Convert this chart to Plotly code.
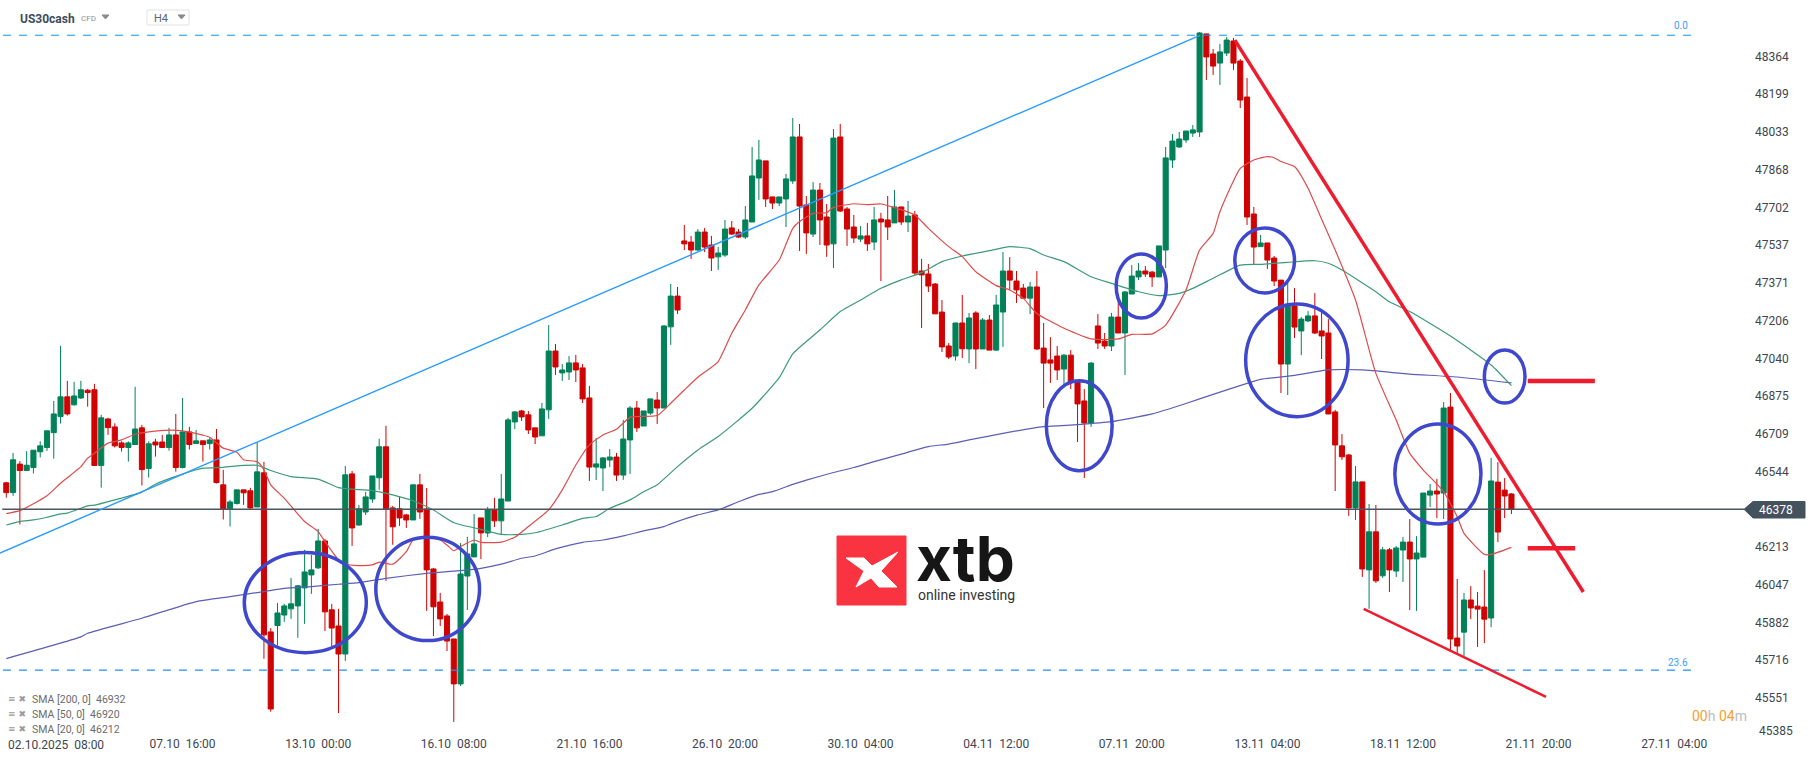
import plotly.graph_objects as go

# candles, oldest first
opens = [46494,46451,46576,46548,46561,46630,46649,46714,46785,46871,46836,46866,46900,46902,46570,46774,46739,46669,46649,46662,
46735,46557,46673,46673,46649,46704,46561,46717,46666,46678,46666,46682,46485,46380,46403,46463,46459,46388,46538,45840,
45868,45914,45941,45954,46033,46090,46121,46239,45937,45866,45743,46533,46309,46366,46423,46516,46652,46384,46380,46353,
46331,46485,46379,46116,45971,45910,45809,45612,46085,46169,46340,46274,46375,46327,46414,46761,46809,46792,46735,46700,
46814,47072,46976,46980,47020,46998,46866,46563,46559,46594,46607,46528,46682,46822,46743,46800,46857,46822,47178,47313,
47555,47550,47515,47594,47537,47485,47493,47612,47594,47572,47638,47831,47906,47748,47721,47739,47818,48011,47713,47585,
47778,47660,47542,48011,47695,47616,47563,47577,47550,47651,47647,47634,47704,47638,47669,47423,47410,47366,47243,47094,
47050,47195,47081,47239,47081,47208,47076,47243,47423,47379,47348,47304,47353,47085,47033,47050,46993,47054,46936,46853,
46756,47182,47116,47094,47221,47151,47322,47397,47423,47418,47397,47515,47910,47967,47998,48028,48033,48463,48375,48335,
48379,48432,48344,48186,47673,47530,47546,47480,47383,47015,47269,47160,47204,47226,47160,47151,46805,46656,46616,46384,
46498,46112,46279,46086,46200,46107,46199,46234,46160,46168,46440,46458,46449,46826,45813,45839,45980,45953,45949,45901,
46497,46462,46445]
highs = [46498,46625,46589,46633,46637,46676,46722,46853,47095,46941,46937,46941,46906,46928,46792,46779,46755,46676,46676,46915,
46748,46676,46687,46704,46735,46796,46866,46739,46726,46678,46692,46730,46551,46419,46463,46463,46472,46673,46586,45857,
45967,45963,46077,46046,46200,46178,46292,46248,45963,45941,46568,46546,46397,46454,46524,46687,46744,46393,46432,46358,
46485,46533,46471,46121,46011,45919,45809,46230,46257,46357,46340,46388,46428,46533,46779,46809,46814,46809,46735,46844,
47186,47103,47015,47050,47055,47015,46919,46691,46607,46642,46625,46770,46831,46853,46809,46862,46892,47186,47366,47353,
47625,47577,47607,47612,47577,47528,47647,47642,47607,47708,47967,47998,47906,47748,47748,47849,48094,48068,47752,47813,
47809,47717,48046,48068,47704,47669,47620,47634,47704,47678,47752,47778,47704,47730,47686,47476,47454,47370,47296,47107,
47195,47318,47239,47247,47217,47230,47318,47506,47484,47423,47366,47375,47423,47195,47133,47094,47059,47076,46945,46905,
47024,47234,47151,47239,47318,47335,47449,47458,47445,47423,47533,47967,48024,48033,48037,48063,48471,48463,48397,48419,
48449,48445,48353,48270,47704,47581,47546,47489,47383,47375,47348,47221,47247,47326,47243,47212,46814,46708,46621,46568,
46498,46401,46397,46213,46208,46217,46256,46335,46260,46449,46489,46511,46848,46888,46072,46011,46041,46015,46111,46603,
46585,46515,46449]
lows = [46429,46437,46311,46548,46535,46605,46634,46600,46754,46789,46833,46862,46828,46570,46473,46704,46649,46631,46587,46660,
46482,46517,46609,46649,46635,46543,46557,46640,46666,46587,46640,46491,46333,46302,46399,46397,46380,46388,45722,45490,
45780,45884,45897,45814,45875,46007,46116,45844,45778,45484,45713,46217,46305,46353,46406,46463,46064,46222,46305,46296,
46331,46336,45932,45822,45866,45756,45445,45603,45936,46169,46160,46256,46300,46265,46414,46730,46765,46708,46664,46700,
46774,46967,46941,46945,46936,46844,46502,46506,46458,46563,46502,46507,46533,46717,46743,46792,46752,46822,47099,47235,
47515,47476,47511,47506,47423,47428,47485,47581,47568,47563,47638,47735,47704,47695,47708,47616,47805,47511,47498,47572,
47537,47485,47436,47682,47533,47546,47550,47511,47515,47379,47559,47634,47625,47594,47406,47173,47331,47235,47068,47037,
47030,47041,47019,46993,47081,47076,47072,47090,47340,47283,47304,47234,47076,46822,46932,46945,46923,46905,46673,46515,
46739,47081,47081,47072,47151,46967,47322,47383,47397,47353,47397,47436,47875,47963,47985,48011,48011,48261,48283,48239,
48366,48305,48138,47625,47449,47528,47432,47357,46888,46879,47129,47054,47199,47147,47037,46796,46458,46594,46349,46331,
46081,45941,46055,46077,46015,46081,46059,45936,45932,46168,46388,46339,46335,45760,45747,45734,45896,45774,45791,45861,
46234,46339,46357]
closes = [46451,46595,46548,46571,46637,46656,46722,46796,46871,46796,46875,46902,46890,46570,46779,46736,46656,46649,46669,46730,
46552,46665,46660,46649,46704,46561,46717,46662,46678,46662,46682,46495,46380,46410,46463,46450,46384,46542,45827,45502,
45923,45954,45963,46042,46103,46112,46239,45928,45857,45743,46529,46296,46380,46432,46524,46652,46380,46301,46340,46331,
46485,46366,46112,45950,45897,45800,45612,46094,46182,46226,46274,46375,46327,46423,46770,46805,46783,46726,46695,46818,
47072,47002,46989,47020,46989,46862,46563,46577,46603,46607,46528,46686,46822,46735,46809,46862,46822,47182,47313,47252,
47542,47515,47594,47528,47480,47502,47607,47585,47572,47647,47840,47910,47739,47721,47748,47827,48011,47708,47590,47778,
47647,47537,48006,47686,47607,47568,47577,47542,47647,47638,47616,47704,47638,47664,47414,47406,47357,47235,47090,47046,
47195,47082,47217,47081,47208,47076,47274,47423,47383,47340,47304,47353,47081,47019,47019,46989,47054,46936,46840,46756,
47019,47107,47094,47221,47151,47331,47401,47423,47410,47397,47533,47919,47993,48002,48037,48042,48467,48362,48322,48384,
48436,48335,48173,47660,47528,47546,47471,47379,47015,47278,47177,47212,47226,47151,47138,46796,46660,46608,46384,46498,
46116,46279,46064,46200,46112,46208,46234,46160,46186,46449,46458,46445,46822,45809,45778,45980,45945,45940,45896,46502,
46278,46436,46379]

# moving averages at these candle numbers
sma20_idx = [0,2,4,6,8,9,11,12,13,15,17,19,21,24,26,29,30,32,34,35,37,38,39,41,44,46,47,49,50,52,54,55,57,59,60,62,64,65,66,67,69,70,73,75,77,80,82,84,86,88,90,92,96,98,100,102,105,107,109,111,114,116,117,119,121,122,125,127,129,131,134,136,139,141,143,146,148,150,152,156,160,164,166,169,171,174,176,178,179,182,184,186,187,188,190,192,194,196,199,202,205,207,209,212,214,215,218,219,222]
sma20_val = [46359,46372,46402,46437,46492,46516,46565,46602,46624,46668,46682,46707,46717,46725,46722,46703,46694,46646,46628,46595,46586,46551,46485,46426,46324,46280,46236,46156,46138,46131,46134,46146,46137,46192,46244,46258,46243,46221,46196,46214,46243,46233,46234,46255,46302,46375,46463,46572,46660,46704,46729,46781,46789,46843,46901,46957,47026,47150,47252,47362,47471,47610,47640,47676,47679,47702,47718,47714,47717,47701,47669,47610,47530,47486,47420,47359,47340,47303,47237,47172,47125,47125,47145,47147,47186,47340,47515,47588,47683,47873,47910,47925,47920,47903,47881,47786,47650,47515,47296,46974,46769,46623,46550,46455,46345,46272,46180,46180,46211]
sma50_idx = [0,2,4,6,8,9,12,13,16,20,22,26,29,32,35,37,39,42,46,49,51,54,57,60,63,66,70,73,76,78,82,85,87,89,92,94,96,99,102,105,110,114,116,120,123,126,129,132,135,138,141,145,148,151,153,156,160,163,167,170,173,175,178,182,185,189,193,195,197,202,204,207,213,219,222]
sma50_val = [46309,46324,46331,46343,46358,46361,46393,46396,46419,46453,46488,46532,46558,46562,46570,46571,46548,46521,46510,46473,46466,46460,46441,46415,46375,46319,46290,46268,46268,46275,46309,46338,46346,46382,46419,46455,46485,46565,46638,46697,46821,46955,47060,47164,47245,47296,47347,47384,47416,47464,47489,47512,47530,47521,47493,47464,47398,47369,47332,47315,47325,47347,47391,47449,47452,47461,47468,47457,47427,47332,47288,47245,47138,47011,46920]
sma200_idx = [0,11,12,20,28,33,38,41,45,49,52,56,62,65,67,70,73,76,78,81,85,88,91,94,97,98,102,105,108,111,113,116,118,122,125,128,132,136,139,142,147,153,158,163,169,174,178,183,185,190,195,200,207,214,222]
sma200_val = [45723,45818,45834,45900,45973,45995,46017,46031,46039,46049,46056,46075,46097,46104,46109,46119,46137,46163,46173,46204,46233,46243,46261,46283,46302,46314,46353,46375,46411,46443,46455,46487,46506,46539,46561,46587,46620,46653,46664,46682,46711,46740,46749,46762,46796,46842,46882,46930,46948,46965,46989,46989,46971,46958,46932]

price_ticks = [48364,48199,48033,47868,47702,47537,47371,47206,47040,46875,46709,46544,46213,46047,45882,45716,45551]
bottom_tick = 45385
time_idx = [26,46,66,86,106,126,146,166,186,206,226,246]
gap = "&nbsp;" * 2
time_labels = [d + gap + t for d, t in [
    ("07.10","16:00"),("13.10","00:00"),("16.10","08:00"),("21.10","16:00"),("26.10","20:00"),("30.10","04:00"),
    ("04.11","12:00"),("07.11","20:00"),("13.11","04:00"),("18.11","12:00"),("21.11","20:00"),("27.11","04:00")]]
first_time_label = "02.10.2025" + gap + "08:00"
last_price = 46378
fib_0 = 48457
fib_236 = 45672

# hand drawn analysis on the chart: candle number / price
circles = [(35.1,53.1,45749,46188),(54.5,69.8,45802,46255),(153.4,163.1,46547,46942),(163.7,171.1,47217,47498),
           (181.2,190.0,47327,47612),(182.8,197.9,46784,47278),(204.8,217.5,46313,46752),(218.0,224.0,46844,47077)]
red_lines = [(181.2,48436,232.6,46015,3.5),(200.2,45941,227.1,45555,2.5),(224.4,46207,231.4,46207,4.5),(224.4,46941,234.3,46941,4.5)]

PLOT_W = 1754
PLOT_H = 737


def px(x, y):
    # page pixels to paper coordinates
    return x / PLOT_W, 1 - y / PLOT_H


def text(x, y, s, size, color, anchor="left", family="Roboto", weight=None):
    xp, yp = px(x, y)
    font = dict(family=family, size=size, color=color)
    if weight:
        font["weight"] = weight
    return dict(x=xp, y=yp, xref="paper", yref="paper", text=s, showarrow=False,
                xanchor=anchor, yanchor="middle", font=font)


def poly(points, color, line=None):
    path = ""
    for i, (x, y) in enumerate(points):
        xp, yp = px(x, y)
        path += ("M" if i == 0 else "L") + f"{xp:.5f},{yp:.5f} "
    return dict(type="path", xref="paper", yref="paper", path=path + "Z", fillcolor=color,
                line=dict(color=line or color, width=1), layer="above")


fig = go.Figure()

fig.add_trace(go.Scatter(x=sma200_idx, y=sma200_val, mode="lines", line=dict(color="#5a5fb5", width=1.2, shape="spline", smoothing=0.5), hoverinfo="skip"))
fig.add_trace(go.Scatter(x=sma50_idx, y=sma50_val, mode="lines", line=dict(color="#3c9a78", width=1.2, shape="spline", smoothing=0.5), hoverinfo="skip"))
fig.add_trace(go.Scatter(x=sma20_idx, y=sma20_val, mode="lines", line=dict(color="#de4b4b", width=1.2, shape="spline", smoothing=0.5), hoverinfo="skip"))
fig.add_trace(go.Candlestick(
    x=list(range(len(opens))), open=opens, high=highs, low=lows, close=closes,
    increasing=dict(line=dict(color="#028158", width=1), fillcolor="#028158"),
    decreasing=dict(line=dict(color="#cf0303", width=1), fillcolor="#cf0303"),
    whiskerwidth=0, hoverinfo="skip",
))

shapes = []
# fibo levels and last price line
for lvl in (fib_0, fib_236):
    shapes.append(dict(type="line", x0=-0.5, x1=248.5, y0=lvl, y1=lvl, xref="x", yref="y",
                       line=dict(color="#1e90ff", width=1.2, dash="8px,8px"), layer="above"))
shapes.append(dict(type="line", x0=-0.6, x1=256.3, y0=last_price, y1=last_price, xref="x", yref="y",
                   line=dict(color="#4a5560", width=1.4), layer="above"))
# trend line up to the top
shapes.append(dict(type="line", x0=-0.93, y0=46186, x1=176.06, y1=48457, xref="x", yref="y",
                   line=dict(color="#2b9bff", width=1.4), layer="above"))
for x0, y0, x1, y1, w in red_lines:
    shapes.append(dict(type="line", x0=x0, y0=y0, x1=x1, y1=y1, xref="x", yref="y",
                       line=dict(color="#ee1c2e", width=w), layer="above"))
for x0, x1, y0, y1 in circles:
    shapes.append(dict(type="circle", x0=x0, x1=x1, y0=y0, y1=y1, xref="x", yref="y",
                       line=dict(color="#3f48cc", width=3.5), layer="above"))

# price tag on the axis
shapes.append(poly([(1744, 509.3), (1753, 501.5), (1805, 501.5), (1805, 518), (1753, 518)], "#44525e"))

# header bits
shapes.append(poly([(102, 15), (109, 15), (105.5, 19)], "#8a8a8a"))
shapes.append(poly([(178, 15), (185, 15), (181.5, 19)], "#8a8a8a"))
x0, y1 = px(147, 10)
x1, y0 = px(189, 25)
shapes.append(dict(type="rect", xref="paper", yref="paper", x0=x0, x1=x1, y0=y0, y1=y1,
                   line=dict(color="#dfe2e5", width=1), layer="above"))

# xtb logo
x0, y1 = px(837, 536)
x1, y0 = px(906, 605)
shapes.append(dict(type="rect", xref="paper", yref="paper", x0=x0, x1=x1, y0=y0, y1=y1,
                   fillcolor="#fa3340", line=dict(color="#fa3340", width=1), layer="above"))
shapes.append(poly([(846, 558), (864, 558), (872, 566), (898, 552), (881, 571), (897, 587), (879, 587), (871, 578), (856, 587), (864, 571)], "#ffffff"))

annotations = [
    text(18, 18.5, "US30cash", 12, "#3e4c59", weight=700),
    text(79, 19, "CFD", 8, "#8a9199"),
    text(152, 18.5, "H4", 11, "#5a6570"),
    text(1672, 26, "0.0", 10, "#3aa0ff"),
    text(1666, 662, "23.6", 10, "#3aa0ff"),
    text(1757, 509.8, str(last_price), 12, "#ffffff"),
    text(1757, 731, str(bottom_tick), 12, "#3d4650"),
    text(1690, 716, '<span style="color:#f7a030">00</span>h <span style="color:#f7a030">04</span>m', 14, "#b9bdc2"),
    text(914, 558, "xtb", 62, "#161616", weight=700, family="Inter"),
    text(916, 595, "online investing", 14, "#333333"),
    text(6, 699, "≡ ✖", 9, "#9a9a9a", family="DejaVu Sans"),
    text(6, 714, "≡ ✖", 9, "#9a9a9a", family="DejaVu Sans"),
    text(6, 729, "≡ ✖", 9, "#9a9a9a", family="DejaVu Sans"),
    text(30, 699, "SMA [200, 0]  46932", 10.5, "#6b6b6b"),
    text(30, 714, "SMA [50, 0]  46920", 10.5, "#6b6b6b"),
    text(30, 729, "SMA [20, 0]  46212", 10.5, "#6b6b6b"),
    text(6, 745, first_time_label, 12, "#3d4650"),
]

fig.update_layout(
    width=1815, height=761,
    margin=dict(l=0, r=1815 - PLOT_W, t=0, b=761 - PLOT_H),
    paper_bgcolor="white", plot_bgcolor="white",
    showlegend=False, hovermode=False, dragmode=False,
    boxgap=0.25, boxgroupgap=0,
    shapes=shapes, annotations=annotations,
    font=dict(family="Roboto", color="#3d4650", size=12),
)
fig.update_xaxes(range=[-0.93, (PLOT_W - 6.3) / 6.78], rangeslider_visible=False, showgrid=False, zeroline=False,
                 showline=False, ticks="", tickmode="array", tickvals=time_idx, ticktext=time_labels,
                 ticklabelstandoff=-2, tickfont=dict(size=12, color="#3d4650"))
fig.update_yaxes(range=[45379, 48611.7], side="right", showgrid=False, zeroline=False, showline=False, ticks="",
                 tickmode="array", tickvals=price_ticks, ticktext=[str(p) for p in price_ticks],
                 tickfont=dict(size=12, color="#3d4650"))

# page body has a default margin, the chart has to start at the window corner
fig.write_html("out.html", config={"displayModeBar": False},
               post_script="document.body.style.margin='0';document.body.style.overflow='hidden';")
